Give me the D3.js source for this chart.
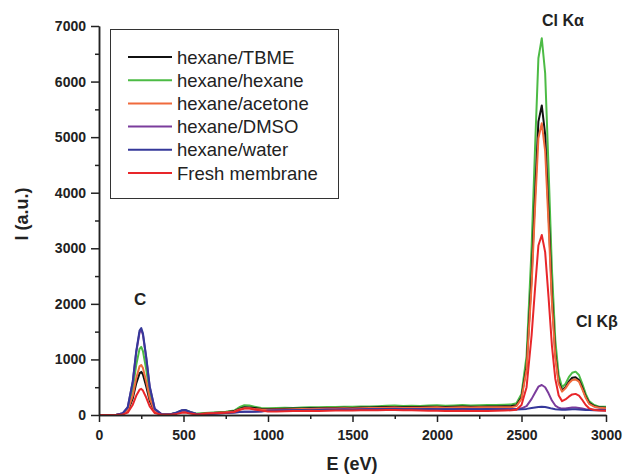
<!DOCTYPE html>
<html>
<head>
<meta charset="utf-8">
<script src="https://cdn.jsdelivr.net/npm/d3@7"></script>
<style>
  body { margin: 0; background: #fff; }
  svg { display: block; font-family: "Liberation Sans", Arial, sans-serif; }
</style>
</head>
<body>
<svg id="chart" width="623" height="474"></svg>
<script>
// energy grid (eV)
const energy = [0, 100, 140, 170, 200, 220, 240, 250, 260, 280, 300, 330, 370, 420, 460, 490, 510, 540, 580, 650, 750,
  800, 830, 860, 890, 920, 960, 1000,
  1050, 1100, 1150, 1200, 1250, 1300, 1350, 1400, 1450, 1500, 1550, 1600, 1650, 1700,
  1750, 1800, 1850, 1900, 1950, 2000, 2050, 2100, 2150, 2200, 2250, 2300, 2350, 2400,
  2440, 2470, 2500, 2530, 2560, 2580, 2600, 2620, 2640, 2660, 2680, 2700, 2720, 2740,
  2760, 2780, 2800, 2820, 2840, 2860, 2880, 2900, 2930, 2960, 3000];

const tbme = [0, 0, 15, 70, 300, 565, 750, 775, 730, 510, 255, 55, 8, 10, 35, 65, 70, 40, 15, 30, 50,
  70, 110, 140, 135, 125, 110, 105,
  110, 112, 115, 118, 120, 122, 125, 128, 130, 128, 133, 135, 138, 142,
  145, 140, 142, 145, 148, 150, 146, 150, 152, 148, 150, 155, 152, 158,
  160, 175, 320, 880, 2500, 3950, 5280, 5570, 5050, 3650, 2150, 1100, 600, 440,
  500, 600, 670, 680, 630, 490, 330, 220, 160, 140, 130];

const hexane = [0, 0, 25, 110, 480, 895, 1190, 1225, 1150, 810, 405, 85, 12, 15, 40, 80, 90, 55, 25, 40, 60,
  80, 140, 175, 170, 150, 125, 120,
  125, 130, 128, 135, 140, 138, 145, 142, 150, 148, 155, 152, 158, 165,
  170, 160, 165, 162, 170, 175, 168, 172, 178, 170, 176, 180, 178, 185,
  190, 210, 380, 1060, 3030, 4790, 6420, 6780, 6150, 4450, 2620, 1350, 720, 500,
  560, 680, 760, 780, 720, 560, 380, 250, 180, 150, 150];

const acetone = [0, 0, 18, 80, 350, 655, 875, 900, 845, 595, 300, 65, 10, 10, 30, 55, 60, 35, 15, 30, 50,
  65, 100, 120, 120, 110, 100, 95,
  98, 100, 104, 106, 110, 112, 115, 118, 120, 118, 122, 125, 128, 132,
  135, 128, 130, 132, 135, 138, 132, 136, 138, 135, 138, 140, 138, 140,
  140, 160, 290, 820, 2350, 3720, 4980, 5250, 4750, 3440, 2020, 1040, 560, 420,
  480, 570, 630, 640, 600, 460, 310, 200, 150, 130, 120];

const dmso = [0, 0, 30, 135, 600, 1120, 1485, 1530, 1440, 1010, 505, 105, 15, 10, 40, 80, 85, 50, 15, 20, 35,
  45, 55, 60, 60, 62, 68, 80,
  85, 88, 90, 92, 95, 96, 98, 100, 102, 100, 104, 106, 108, 110,
  112, 108, 106, 108, 110, 108, 106, 108, 110, 107, 108, 110, 108, 110,
  110, 110, 120, 160, 290, 400, 510, 540, 500, 390, 260, 170, 130, 115,
  115, 125, 135, 135, 125, 115, 105, 100, 95, 95, 90];

const water = [0, 0, 30, 140, 610, 1140, 1520, 1565, 1470, 1030, 520, 110, 15, 10, 45, 85, 90, 55, 15, 20, 35,
  45, 55, 60, 60, 60, 65, 75,
  80, 82, 85, 88, 90, 92, 94, 96, 98, 96, 100, 102, 104, 106,
  108, 104, 102, 104, 106, 105, 102, 104, 106, 103, 104, 106, 104, 102,
  100, 100, 105, 110, 125, 135, 145, 150, 145, 130, 115, 105, 100, 95,
  95, 100, 105, 105, 100, 95, 90, 90, 85, 85, 80];

const fresh = [0, 0, 10, 42, 185, 345, 455, 470, 440, 310, 155, 35, 5, 5, 20, 40, 45, 25, 10, 25, 40,
  55, 90, 115, 115, 100, 80, 65,
  65, 68, 70, 72, 75, 74, 78, 80, 82, 80, 84, 86, 85, 90,
  92, 86, 84, 80, 78, 76, 74, 72, 75, 70, 72, 74, 76, 80,
  85, 95, 180, 500, 1440, 2270, 3050, 3240, 2930, 2120, 1250, 650, 350, 250,
  280, 330, 370, 380, 350, 270, 180, 120, 90, 80, 75];

const seriesNames = ["hexane/TBME", "hexane/hexane", "hexane/acetone", "hexane/DMSO", "hexane/water", "Fresh membrane"];
const seriesColors = ["#111111", "#4cbb45", "#f06a3c", "#7b3c9c", "#35389a", "#e8262a"];
const seriesValues = [tbme, hexane, acetone, dmso, water, fresh];
const drawOrder = [1, 0, 2, 3, 4, 5];

const xTicks = [0, 500, 1000, 1500, 2000, 2500, 3000];
const xMinor = [250, 750, 1250, 1750, 2250, 2750];
const yTicks = [0, 1000, 2000, 3000, 4000, 5000, 6000, 7000];
const yMinor = [500, 1500, 2500, 3500, 4500, 5500, 6500];
const peakLabels = ["C", "Cl K\u03b1", "Cl K\u03b2"];

const svg = d3.select("#chart");
const x = d3.scaleLinear().domain([0, 3000]).range([99, 606]);
const y = d3.scaleLinear().domain([0, 7000]).range([415, 26]);

// spectra
const line = d3.line()
  .x((d, i) => x(energy[i]))
  .y(d => y(d));

drawOrder.forEach(function (k) {
  svg.append("path")
    .attr("d", line(seriesValues[k]))
    .attr("fill", "none")
    .attr("stroke", seriesColors[k])
    .attr("stroke-width", 2)
    .attr("stroke-linejoin", "round");
});

// axes
function styleAxis(g) {
  g.select(".domain").attr("stroke", "#222").attr("stroke-width", 1.5);
  g.selectAll(".tick line").attr("stroke", "#222").attr("stroke-width", 1.5);
  g.selectAll(".tick text")
    .attr("fill", "#222")
    .style("font-size", "14px")
    .style("font-weight", "bold");
}

svg.append("g")
  .attr("transform", "translate(0,415)")
  .call(d3.axisBottom(x).tickValues(xMinor).tickSize(4).tickFormat("").tickSizeOuter(0))
  .call(styleAxis);
svg.append("g")
  .attr("transform", "translate(0,415)")
  .call(d3.axisBottom(x).tickValues(xTicks).tickSize(7).tickPadding(8).tickFormat(d3.format("d")).tickSizeOuter(0))
  .call(styleAxis);

svg.append("g")
  .attr("transform", "translate(99,0)")
  .call(d3.axisLeft(y).tickValues(yMinor).tickSize(4).tickFormat("").tickSizeOuter(0))
  .call(styleAxis);
svg.append("g")
  .attr("transform", "translate(99,0)")
  .call(d3.axisLeft(y).tickValues(yTicks).tickSize(8).tickPadding(5).tickFormat(d3.format("d")).tickSizeOuter(0))
  .call(styleAxis);

// axis titles
svg.append("text")
  .attr("x", 352).attr("y", 470)
  .attr("text-anchor", "middle")
  .style("font-size", "18px").style("font-weight", "bold")
  .attr("fill", "#222")
  .text("E (eV)");

svg.append("text")
  .attr("transform", "translate(28,214) rotate(-90)")
  .attr("text-anchor", "middle")
  .style("font-size", "18px").style("font-weight", "bold")
  .attr("fill", "#222")
  .text("I (a.u.)");

// peak labels
svg.append("text").attr("x", x(250) - 1).attr("y", 305)
  .attr("text-anchor", "middle")
  .style("font-size", "17px").style("font-weight", "bold").attr("fill", "#222")
  .text(peakLabels[0]);
svg.append("text").attr("x", 542).attr("y", 26)
  .style("font-size", "16px").style("font-weight", "bold").attr("fill", "#222")
  .text(peakLabels[1]);
svg.append("text").attr("x", 576).attr("y", 327)
  .style("font-size", "16px").style("font-weight", "bold").attr("fill", "#222")
  .text(peakLabels[2]);

// legend
const legend = svg.append("g");
legend.append("rect")
  .attr("x", 110.5).attr("y", 29.5)
  .attr("width", 228).attr("height", 169)
  .attr("fill", "#fff")
  .attr("stroke", "#333").attr("stroke-width", 1);

seriesNames.forEach(function (name, i) {
  const yy = 57 + i * 23.2;
  legend.append("line")
    .attr("x1", 128).attr("x2", 172)
    .attr("y1", yy).attr("y2", yy)
    .attr("stroke", seriesColors[i]).attr("stroke-width", 2);
  legend.append("text")
    .attr("x", 177).attr("y", yy + 6.5)
    .style("font-size", "18.5px")
    .attr("fill", "#222")
    .text(name);
});
</script>
</body>
</html>
